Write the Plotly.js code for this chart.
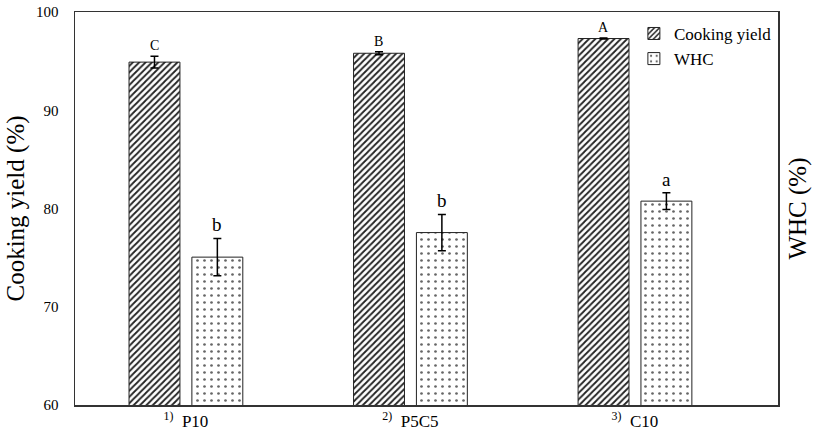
<!DOCTYPE html>
<html><head><meta charset="utf-8">
<script src="https://cdn.plot.ly/plotly-3.0.1.min.js"></script>
<style>html,body{margin:0;padding:0;background:#fff}</style>
</head><body><div id="chart" style="width:827px;height:432px"></div>
<script>
const categories = ["P10", "P5C5", "C10"];
const tickLabels = ["<sup>1)</sup>  P10", "<sup>2)</sup>  P5C5", "<sup>3)</sup>  C10"];
const cookingYield = [94.9, 95.8, 97.3];
const cookingErr = [0.6, 0.15, 0.05];
const cookingLetters = ["C", "B", "A"];
const whc = [75.05, 77.55, 80.75];
const whcErr = [1.9, 1.85, 0.85];
const whcLetters = ["b", "b", "a"];

const serif = "'Times New Roman', 'Liberation Serif', serif";
const idx = categories.map((c, i) => i);

const traces = [
  {type: "bar", name: "Cooking yield", x: idx, y: cookingYield,
   error_y: {type: "data", array: cookingErr, visible: true, color: "#000", thickness: 1.5, width: 4},
   marker: {color: "#fff", line: {color: "#222", width: 1},
            pattern: {shape: "/", fgcolor: "#222", bgcolor: "#fff", size: 4.5, solidity: 0.4}}},
  {type: "bar", name: "WHC", x: idx, y: whc,
   error_y: {type: "data", array: whcErr, visible: true, color: "#000", thickness: 1.5, width: 4},
   marker: {color: "#fff", line: {color: "#222", width: 1},
            pattern: {shape: ".", fgcolor: "#666", bgcolor: "#fff", size: 7, solidity: 0.12}}},
  {type: "scatter", x: [0], y: [60], yaxis: "y2", showlegend: false, hoverinfo: "skip",
   mode: "markers", marker: {opacity: 0}}
];

const annotations = [];
idx.forEach(i => {
  annotations.push({x: i, y: cookingYield[i] + cookingErr[i], xref: "x", yref: "y",
    text: cookingLetters[i], showarrow: false, yanchor: "bottom", xshift: -31.5, yshift: 1,
    font: {family: serif, size: 14, color: "#000"}});
  annotations.push({x: i, y: whc[i] + whcErr[i], xref: "x", yref: "y",
    text: whcLetters[i], showarrow: false, yanchor: "bottom", xshift: 31.5, yshift: 1,
    font: {family: serif, size: 19, color: "#000"}});
});

const layout = {
  width: 827, height: 432,
  margin: {l: 75, r: 49, t: 12, b: 27},
  paper_bgcolor: "#fff", plot_bgcolor: "#fff",
  font: {family: serif, color: "#000"},
  barmode: "group", bargap: 0.44, bargroupgap: 0.19,
  showlegend: true,
  legend: {x: 0.795, y: 0.99, xanchor: "left", yanchor: "top", bgcolor: "rgba(0,0,0,0)",
           font: {family: serif, size: 17, color: "#000"}, tracegroupgap: 0, itemwidth: 30},
  xaxis: {tickmode: "array", tickvals: idx, ticktext: tickLabels, range: [-0.494, 2.637],
          showline: true, linecolor: "#333", linewidth: 1.5, mirror: true, ticks: "",
          showgrid: false, zeroline: false, tickfont: {family: serif, size: 17, color: "#000"}},
  yaxis: {range: [60, 100], tickvals: [60, 70, 80, 90, 100], showline: true, linecolor: "#333",
          linewidth: 1.5, mirror: true, ticks: "", showgrid: false, zeroline: false,
          ticklabelstandoff: 12, tickfont: {family: serif, size: 15, color: "#000"},
          title: {text: "Cooking yield (%)", font: {family: serif, size: 25, color: "#000"}, standoff: 4}},
  yaxis2: {overlaying: "y", side: "right", range: [60, 100], showticklabels: false, ticks: "",
           showgrid: false, zeroline: false, showline: false,
           title: {text: "WHC (%)", font: {family: serif, size: 25, color: "#000"}, standoff: 10}},
  annotations: annotations
};

Plotly.newPlot("chart", traces, layout, {displayModeBar: false, staticPlot: true});
</script></body></html>
